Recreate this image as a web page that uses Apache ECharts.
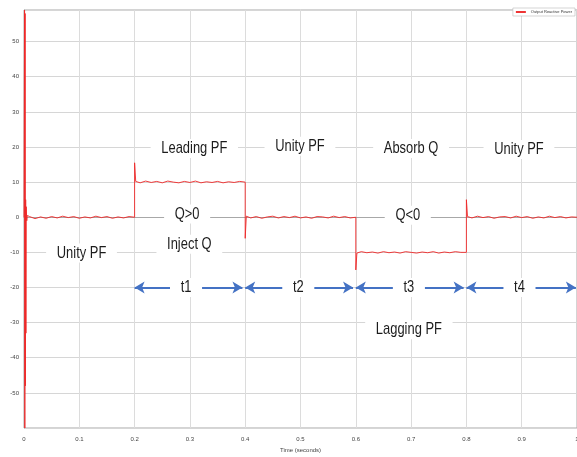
<!DOCTYPE html>
<html>
<head>
<meta charset="utf-8">
<script src="https://cdn.jsdelivr.net/npm/echarts@6/dist/echarts.min.js"></script>
<style>
  html, body { margin: 0; padding: 0; background: #fff; }
  #chart { width: 577px; height: 457px; }
</style>
</head>
<body>
<div id="chart"></div>
<script>
// time (s) and output reactive power (kVAR)
const timeS = [
  0, 0.001, 0.0015, 0.002, 0.0025, 0.003, 0.0035, 0.004, 0.005, 0.006,
  0.01, 0.02, 0.03, 0.04, 0.05, 0.06, 0.07, 0.08, 0.09, 0.10,
  0.11, 0.12, 0.13, 0.14, 0.15, 0.16, 0.17, 0.18, 0.19, 0.2,
  0.2, 0.202, 0.21, 0.22, 0.23, 0.24, 0.25, 0.26, 0.27, 0.28,
  0.29, 0.30, 0.31, 0.32, 0.33, 0.34, 0.35, 0.36, 0.37, 0.38,
  0.39, 0.4, 0.4, 0.402, 0.41, 0.42, 0.43, 0.44, 0.45, 0.46,
  0.47, 0.48, 0.49, 0.50, 0.51, 0.52, 0.53, 0.54, 0.55, 0.56,
  0.57, 0.58, 0.59, 0.6, 0.6, 0.602, 0.61, 0.62, 0.63, 0.64,
  0.65, 0.66, 0.67, 0.68, 0.69, 0.70, 0.71, 0.72, 0.73, 0.74,
  0.75, 0.76, 0.77, 0.78, 0.79, 0.8, 0.8, 0.802, 0.81, 0.82,
  0.83, 0.84, 0.85, 0.86, 0.87, 0.88, 0.89, 0.90, 0.91, 0.92,
  0.93, 0.94, 0.95, 0.96, 0.97, 0.98, 0.99, 1.0
];
const powerKvar = [
  0, 59, -60, 58, -48, 5, -33, 3, -1, 0.5,
  0.2, -0.4, 0.1, -0.3, 0.2, -0.2, 0.3, -0.1, 0.2, -0.3,
  0.1, -0.2, 0.3, -0.1, 0.2, -0.3, 0.1, -0.2, 0.2, 0,
  15.5, 10.2, 9.8, 10.3, 9.9, 10.2, 9.8, 10.3, 10.0, 9.8,
  10.2, 9.9, 10.3, 9.8, 10.1, 9.9, 10.2, 9.8, 10.1, 9.9,
  10.2, 10, -6, 0.3, -0.2, 0.2, -0.3, 0.1, 0.3, -0.2,
  0.2, -0.1, 0.3, -0.2, 0.1, -0.3, 0.2, 0.1, -0.2, 0.3,
  -0.1, 0.2, -0.2, 0, -15, -10.2, -9.8, -10.1, -9.9, -10.2,
  -9.8, -10.1, -9.9, -10.2, -9.8, -10.0, -10.2, -9.9, -10.1, -9.8,
  -10.2, -9.9, -10.1, -9.8, -10.0, -10, 5, 0.2, -0.2, 0.3,
  -0.1, 0.2, -0.3, 0.1, 0.2, -0.2, 0.3, -0.1, 0.2, -0.3,
  0.1, -0.2, 0.3, -0.1, 0.2, -0.2, 0.1, 0
];

// annotations written on the figure
const noteText  = ['Leading PF', 'Unity PF', 'Absorb Q', 'Unity PF', 'Q>0', 'Inject Q', 'Q<0', 'Unity PF', 'Lagging PF'];
const noteTime  = [0.308, 0.499, 0.700, 0.895, 0.295, 0.299, 0.694, 0.104, 0.696];
const noteValue = [19.6, 20.2, 19.6, 19.3, 0.9, -7.7, 0.6, -10.2, -32];

// interval arrows t1..t4
const spanName  = ['t1', 't2', 't3', 't4'];
const spanStart = [0.2, 0.4, 0.6, 0.8];
const spanEnd   = [0.395, 0.595, 0.795, 0.998];
const spanLabelTime = [0.293, 0.496, 0.696, 0.896];
const spanLevel = -20;

const FONT = "'Liberation Sans', Arial, sans-serif";

const chart = echarts.init(document.getElementById('chart'), null, { renderer: 'canvas' });

const traceData = timeS.map((t, i) => [t, powerKvar[i]]);

chart.setOption({
  animation: false,
  backgroundColor: '#fff',
  grid: {
    left: 24, right: 0, top: 10, bottom: 29,
    outerBoundsMode: 'none',
    containLabel: false,
    show: true, borderColor: '#a8a8a8', borderWidth: 1
  },
  legend: {
    right: 2, top: 8,
    padding: [2, 3],
    backgroundColor: '#fff',
    borderColor: '#bbb',
    borderWidth: 0.6,
    itemWidth: 10, itemHeight: 2,
    itemGap: 2,
    textStyle: { fontSize: 4, color: '#333', fontFamily: FONT },
    data: [{ name: 'Output Reactive Power', icon: 'rect' }]
  },
  xAxis: {
    type: 'value',
    min: 0, max: 1, interval: 0.1,
    name: 'Time (seconds)',
    nameLocation: 'middle',
    nameGap: 18,
    nameTextStyle: { fontSize: 6, color: '#444', fontFamily: FONT },
    axisLine: { lineStyle: { color: '#a8a8a8' } },
    axisTick: { show: false },
    axisLabel: {
      fontSize: 6, color: '#444', margin: 8, fontFamily: FONT,
      formatter: v => String(Math.round(v * 10) / 10)
    },
    splitLine: { show: true, lineStyle: { color: '#dcdcdc', width: 1 } }
  },
  yAxis: {
    type: 'value',
    min: -60, max: 59, interval: 10,
    name: 'Reactive Power (KVAR)',
    nameLocation: 'middle',
    nameGap: 15,
    nameTextStyle: { fontSize: 6, color: '#444', fontFamily: FONT },
    axisLine: { show: true, lineStyle: { color: '#a8a8a8' } },
    axisTick: { show: false },
    axisLabel: {
      fontSize: 6, color: '#444', margin: 5, fontFamily: FONT,
      showMinLabel: false, showMaxLabel: false
    },
    splitLine: { show: true, lineStyle: { color: '#d6d6d6', width: 1 } }
  },
  series: [
    {
      name: 'Output Reactive Power',
      type: 'line',
      data: traceData,
      showSymbol: false,
      symbol: 'none',
      color: '#ee3535',
      lineStyle: { color: 'rgba(238,40,40,0.9)', width: 1 },
      z: 3
    },
    {
      name: 'spans',
      type: 'line',
      data: [],
      silent: true,
      markLine: {
        silent: true,
        symbol: ['arrow', 'arrow'],
        symbolSize: [9, 10],
        label: { show: false },
        lineStyle: { color: '#4472c4', width: 2, type: 'solid' },
        data: spanName.map((s, i) => [
          { coord: [spanStart[i], spanLevel] },
          { coord: [spanEnd[i], spanLevel] }
        ])
      },
      z: 4
    }
  ]
});

// condensed text boxes placed through the axes (scaled horizontally like the figure's font)
function noteGraphic(text, t, v) {
  const p = chart.convertToPixel({ gridIndex: 0 }, [t, v]);
  return {
    type: 'text',
    x: p[0], y: p[1],
    scaleX: 0.76,
    z: 100,
    silent: true,
    style: {
      text: text,
      font: "17px " + FONT,
      fill: '#1c1c1c',
      align: 'center',
      verticalAlign: 'middle',
      backgroundColor: '#fff',
      padding: [1, 14]
    }
  };
}

const notes = noteText.map((s, i) => noteGraphic(s, noteTime[i], noteValue[i]))
  .concat(spanName.map((s, i) => noteGraphic(s, spanLabelTime[i], spanLevel)));

chart.setOption({ graphic: notes });

window.addEventListener('resize', () => chart.resize());
</script>
</body>
</html>
